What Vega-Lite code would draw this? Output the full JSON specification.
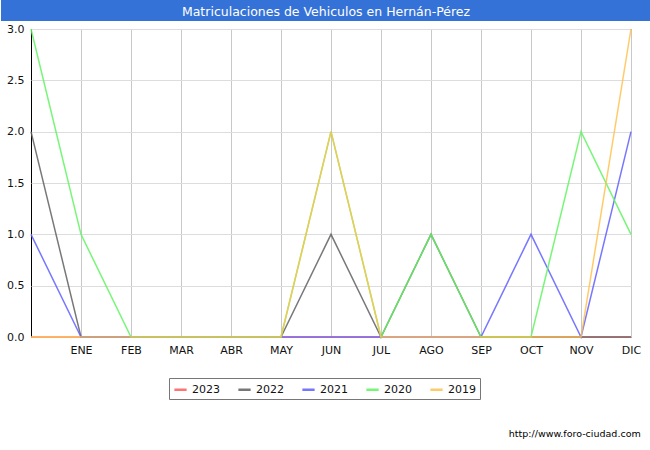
{
  "$schema": "https://vega.github.io/schema/vega-lite/v6.json",
  "description": "Matriculaciones de vehiculos por mes y año",
  "padding": 0,
  "background": "white",
  "spacing": 1,
  "config": {"font": "DejaVu Sans", "view": {"stroke": null}},
  "vconcat": [
    {
      "width": 620,
      "height": 21,
      "view": {"fill": "#3572d7", "stroke": null},
      "data": {"values": [{"titulo": "Matriculaciones de Vehiculos en Hernán-Pérez"}]},
      "mark": {"type": "text", "color": "white", "fontSize": 12.5, "dx": -15, "dy": 1},
      "encoding": {
        "text": {"field": "titulo", "type": "nominal"},
        "y": {
          "field": "titulo",
          "type": "nominal",
          "axis": {
            "title": null,
            "labels": false,
            "ticks": false,
            "translate": 0,
            "domainColor": "#3572d7",
            "domainWidth": 60,
            "domainCap": "butt",
            "minExtent": 30,
            "maxExtent": 30
          }
        }
      }
    },
    {
      "width": 600,
      "height": 308,
      "view": {"stroke": "#000000", "strokeWidth": 1},
      "title": {
        "text": "http://www.foro-ciudad.com",
        "orient": "bottom",
        "anchor": "end",
        "frame": "bounds",
        "fontSize": 9.5,
        "fontWeight": "normal",
        "color": "#000000",
        "offset": 74
      },
      "data": {
        "values": [
          {"serie": "2023", "mes": 0, "valor": 0},
          {"serie": "2023", "mes": 1, "valor": 0},
          {"serie": "2023", "mes": 2, "valor": 0},
          {"serie": "2023", "mes": 3, "valor": 0},
          {"serie": "2023", "mes": 4, "valor": 0},
          {"serie": "2023", "mes": 5, "valor": 0},
          {"serie": "2023", "mes": 6, "valor": 0},
          {"serie": "2023", "mes": 7, "valor": 0},
          {"serie": "2023", "mes": 8, "valor": 0},
          {"serie": "2023", "mes": 9, "valor": 0},
          {"serie": "2023", "mes": 10, "valor": 0},
          {"serie": "2023", "mes": 11, "valor": 0},
          {"serie": "2023", "mes": 12, "valor": 0},
          {"serie": "2022", "mes": 0, "valor": 2},
          {"serie": "2022", "mes": 1, "valor": 0},
          {"serie": "2022", "mes": 2, "valor": 0},
          {"serie": "2022", "mes": 3, "valor": 0},
          {"serie": "2022", "mes": 4, "valor": 0},
          {"serie": "2022", "mes": 5, "valor": 0},
          {"serie": "2022", "mes": 6, "valor": 1},
          {"serie": "2022", "mes": 7, "valor": 0},
          {"serie": "2022", "mes": 8, "valor": 1},
          {"serie": "2022", "mes": 9, "valor": 0},
          {"serie": "2022", "mes": 10, "valor": 0},
          {"serie": "2022", "mes": 11, "valor": 0},
          {"serie": "2022", "mes": 12, "valor": 0},
          {"serie": "2021", "mes": 0, "valor": 1},
          {"serie": "2021", "mes": 1, "valor": 0},
          {"serie": "2021", "mes": 2, "valor": 0},
          {"serie": "2021", "mes": 3, "valor": 0},
          {"serie": "2021", "mes": 4, "valor": 0},
          {"serie": "2021", "mes": 5, "valor": 0},
          {"serie": "2021", "mes": 6, "valor": 0},
          {"serie": "2021", "mes": 7, "valor": 0},
          {"serie": "2021", "mes": 8, "valor": 0},
          {"serie": "2021", "mes": 9, "valor": 0},
          {"serie": "2021", "mes": 10, "valor": 1},
          {"serie": "2021", "mes": 11, "valor": 0},
          {"serie": "2021", "mes": 12, "valor": 2},
          {"serie": "2020", "mes": 0, "valor": 3},
          {"serie": "2020", "mes": 1, "valor": 1},
          {"serie": "2020", "mes": 2, "valor": 0},
          {"serie": "2020", "mes": 3, "valor": 0},
          {"serie": "2020", "mes": 4, "valor": 0},
          {"serie": "2020", "mes": 5, "valor": 0},
          {"serie": "2020", "mes": 6, "valor": 2},
          {"serie": "2020", "mes": 7, "valor": 0},
          {"serie": "2020", "mes": 8, "valor": 1},
          {"serie": "2020", "mes": 9, "valor": 0},
          {"serie": "2020", "mes": 10, "valor": 0},
          {"serie": "2020", "mes": 11, "valor": 2},
          {"serie": "2020", "mes": 12, "valor": 1},
          {"serie": "2019", "mes": 0, "valor": 0},
          {"serie": "2019", "mes": 1, "valor": 0},
          {"serie": "2019", "mes": 2, "valor": 0},
          {"serie": "2019", "mes": 3, "valor": 0},
          {"serie": "2019", "mes": 4, "valor": 0},
          {"serie": "2019", "mes": 5, "valor": 0},
          {"serie": "2019", "mes": 6, "valor": 2},
          {"serie": "2019", "mes": 7, "valor": 0},
          {"serie": "2019", "mes": 8, "valor": 0},
          {"serie": "2019", "mes": 9, "valor": 0},
          {"serie": "2019", "mes": 10, "valor": 0},
          {"serie": "2019", "mes": 11, "valor": 0},
          {"serie": "2019", "mes": 12, "valor": 3}
        ]
      },
      "mark": {"type": "line", "strokeWidth": 1.5, "opacity": 0.85},
      "encoding": {
        "x": {
          "field": "mes",
          "type": "quantitative",
          "scale": {"domain": [0, 12], "nice": false, "zero": false},
          "axis": {
            "title": null,
            "values": [1, 2, 3, 4, 5, 6, 7, 8, 9, 10, 11, 12],
            "labelExpr": "['','ENE','FEB','MAR','ABR','MAY','JUN','JUL','AGO','SEP','OCT','NOV','DIC'][datum.value]",
            "labelFlush": false,
            "grid": true,
            "gridColor": "#c8c8c8",
            "domain": false,
            "ticks": false,
            "labelPadding": 7,
            "labelFontSize": 11,
            "labelColor": "#111111"
          }
        },
        "y": {
          "field": "valor",
          "type": "quantitative",
          "scale": {"domain": [0, 3], "nice": false},
          "axis": {
            "title": null,
            "values": [0, 0.5, 1, 1.5, 2, 2.5, 3],
            "format": ".1f",
            "labelFlush": false,
            "grid": true,
            "gridColor": "#dddddd",
            "domain": false,
            "ticks": false,
            "labelPadding": 7,
            "labelFontSize": 11,
            "labelColor": "#111111",
            "minExtent": 30,
            "maxExtent": 30
          }
        },
        "color": {
          "field": "serie",
          "type": "nominal",
          "sort": ["2023", "2022", "2021", "2020", "2019"],
          "scale": {
            "domain": ["2023", "2022", "2021", "2020", "2019"],
            "range": ["#ff5e5e", "#606060", "#5f5fff", "#5ff55f", "#ffc24f"]
          },
          "legend": {
            "title": null,
            "orient": "none",
            "legendX": 138,
            "legendY": 378,
            "direction": "horizontal",
            "symbolType": "stroke",
            "symbolSize": 150,
            "symbolStrokeWidth": 2.5,
            "labelFontSize": 11,
            "labelColor": "#111111",
            "columnPadding": 13,
            "strokeColor": "#777777",
            "fillColor": "white",
            "padding": 4
          }
        }
      }
    }
  ]
}
